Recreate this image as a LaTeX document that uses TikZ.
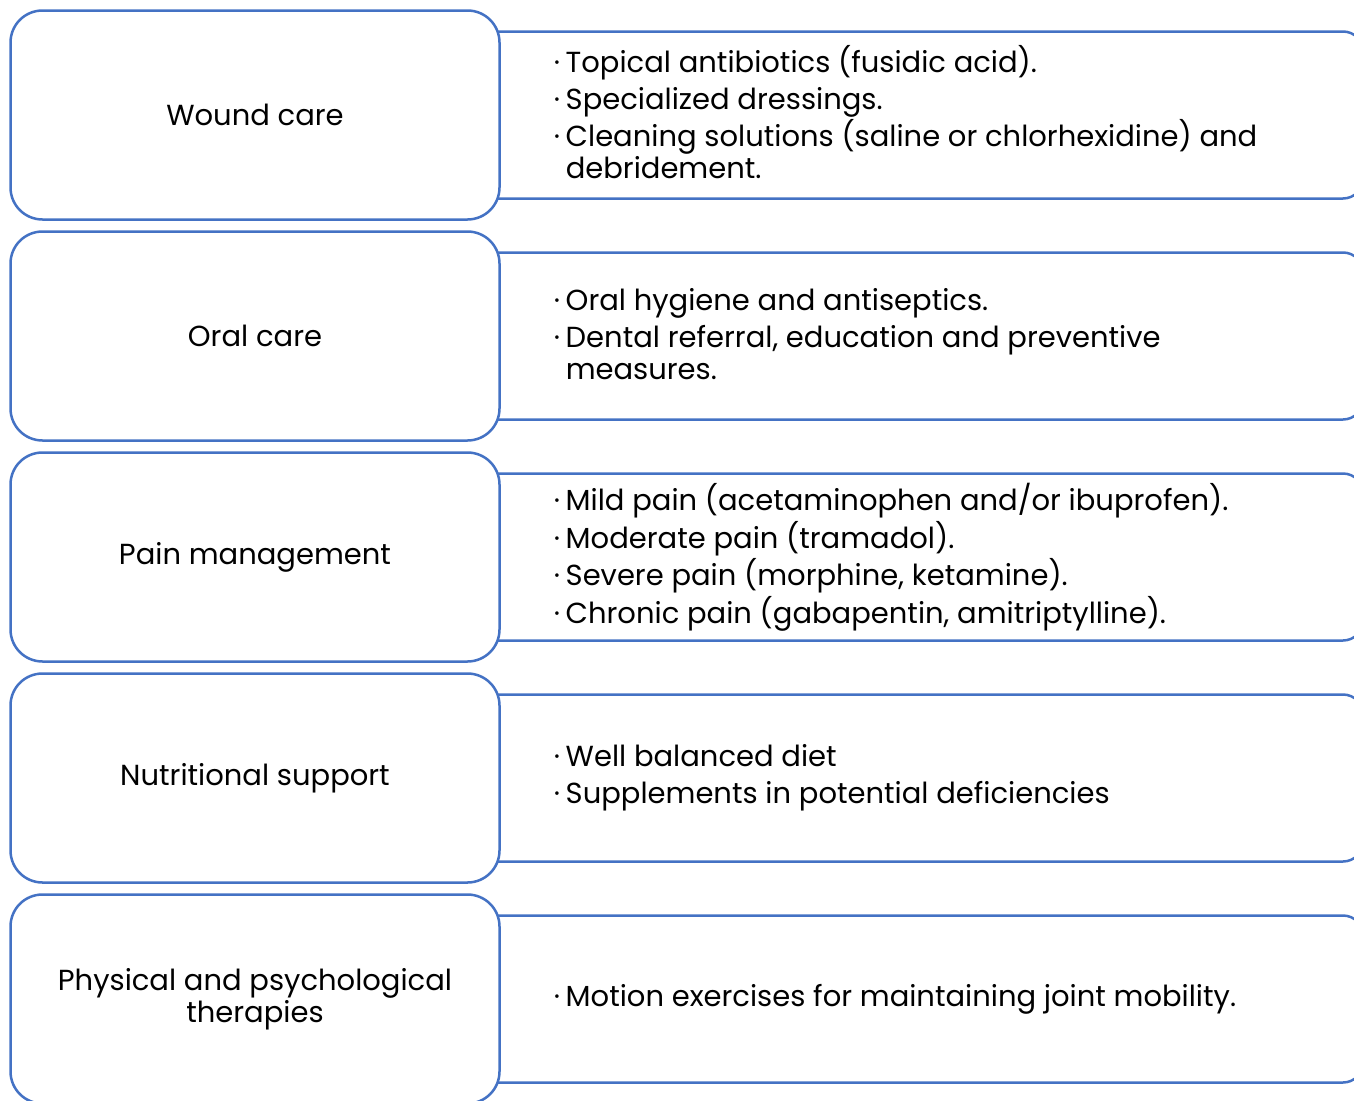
\documentclass[tikz,border=0pt]{standalone}
\usepackage{fontspec}
\setmainfont{Poppins}
\usetikzlibrary{positioning,backgrounds}
\definecolor{boxblue}{HTML}{4472C4}
\newcommand{\bul}{\makebox[12pt][l]{·}}
\newcommand{\cont}{\hspace*{12pt}}
\newcommand{\boxfont}{\fontsize{29}{32}\selectfont\lineskiplimit=-40pt}

\begin{document}
\begin{tikzpicture}[x=1pt,y=-1pt,node distance=221pt,line width=2.5pt,
    catbox/.style={draw=boxblue,fill=white,line width=2.5pt,rounded corners=32pt,minimum width=489pt,minimum height=209pt,outer sep=0pt,align=center,font=\boxfont},
    listbox/.style={draw=boxblue,fill=white,line width=2.5pt,rounded corners=20pt,minimum width=893pt,minimum height=167pt,outer sep=0pt},
    listtext/.style={anchor=west,align=left,inner sep=0pt,font=\boxfont}]
    \useasboundingbox (0,0) rectangle (1354,1100);

    \node[catbox]                  (wound)   at (255,115) {Wound care};
    \node[catbox, below of=wound]  (oral)                 {Oral care};
    \node[catbox, below of=oral]   (pain)                 {Pain management};
    \node[catbox, below of=pain]   (food)                 {Nutritional support};
    \node[catbox, below of=food]   (therapy)              {Physical and psychological\\therapies};

    % list boxes sit behind the category boxes
    \begin{scope}[on background layer]
    \foreach \cat in {wound,oral,pain,food,therapy}
        \node[listbox, right of=\cat, node distance=661.5pt] (\cat list) {};
    \end{scope}

    \node[listtext, right=53pt of wound, yshift=3pt] (woundtext)
        {\bul Topical antibiotics (fusidic acid).\\[5pt]
         \bul Specialized dressings.\\[5pt]
         \bul Cleaning solutions (saline or chlorhexidine) and\\
         \cont debridement.};
    \node[listtext, right=53pt of oral, yshift=2pt] (oraltext)
        {\bul Oral hygiene and antiseptics.\\[5pt]
         \bul Dental referral, education and preventive\\
         \cont measures.};
    \node[listtext, right=53pt of pain] (paintext)
        {\bul Mild pain (acetaminophen and/or ibuprofen).\\[5.5pt]
         \bul Moderate pain (tramadol).\\[5.5pt]
         \bul Severe pain (morphine, ketamine).\\[5.5pt]
         \bul Chronic pain (gabapentin, amitriptylline).};
    \node[listtext, right=53pt of food] (foodtext)
        {\bul Well balanced diet\\[5pt]
         \bul Supplements in potential deficiencies};
    \node[listtext, right=53pt of therapy] (therapytext)
        {\bul Motion exercises for maintaining joint mobility.};
\end{tikzpicture}
\end{document}
